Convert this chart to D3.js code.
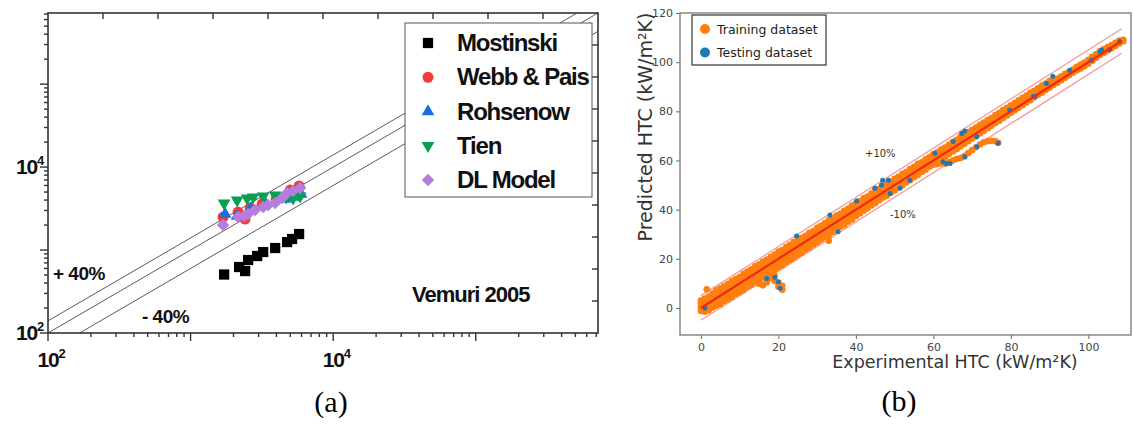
<!DOCTYPE html>
<html><head><meta charset="utf-8">
<script src="https://cdn.jsdelivr.net/npm/d3@7/dist/d3.min.js"></script>
<style>body{margin:0;background:#fff}svg{display:block}</style>
</head><body><svg id="c" width="1133" height="425"></svg>
<script>
// ---------- Panel (a) data ----------
const aSeriesNames = ["Mostinski", "Webb & Pais", "Rohsenow", "Tien", "DL Model"];
const aSeriesColors = ["#000000", "#f03c3c", "#1a6fe0", "#06a050", "#b57edc"];
const mostinskiX = [1718, 2189, 2412, 2533, 2931, 3228, 3919, 4753, 5152, 5768];
const mostinskiY = [507, 624, 558, 758, 847, 946, 1057, 1248, 1358, 1559];
const webbX = [1690, 2153, 2412, 2618, 3175, 3981, 4989, 5768];
const webbY = [2498, 2870, 2363, 3206, 3582, 4115, 5284, 5900];
const rohsenowX = [1747, 2120, 2618, 3334, 4603, 5236, 5957];
const rohsenowY = [2716, 2570, 3119, 3684, 4115, 4350, 4728];
const tienX = [1718, 2120, 2490, 2745, 3228, 3919, 4677, 5236, 5864];
const tienY = [3684, 4003, 4233, 4350, 4475, 4600, 4350, 4233, 4475];
const dlX = [1690, 2153, 2373, 2533, 2837, 3228, 3499, 3919, 4385, 4753, 5236, 5864];
const dlY = [2000, 2498, 2570, 2716, 3034, 3296, 3486, 3684, 4233, 4862, 5142, 5585];
const aTickValues = [100, 10000];
const aTickExps = ["2", "4"];
const aLeftTickValues = [100, 10000];
const aDomain = [100, 7.2e5];
const aLineFactors = [1.4, 1.0, 0.6];

// ---------- Panel (b) data ----------
const bXTicks = [0, 20, 40, 60, 80, 100];
const bYTicks = [0, 20, 40, 60, 80, 100, 120];
const bXDomain = [-5.4, 111];
const bYDomain = [-11, 120];
const refLineX = [0, 108.6];
const bandOffsets = [5, -5];
const trainCols = [
 [0,[-1.2,0.3,1.8,3.0]],[0.5,[-0.5,1.0,2.5]],[1,[-1.5,0.2,2.0,3.8]],[1.5,[7.6]],
 [2,[-1.0,0.8,2.6,4.6]],[3,[0.2,1.9,3.7,5.9]],[4,[0.9,2.8,4.6,7.2]],[5,[1.6,3.5,5.8,8.0]],
 [6,[2.8,4.4,6.7,8.9]],[7,[3.6,5.5,7.4,9.8]],[8,[4.5,6.6,8.3,10.9]],[9,[5.7,7.5,9.6,11.8]],
 [10,[6.4,8.3,10.4,12.6]],[11,[7.3,9.6,11.2,13.9]],[12,[8.6,10.4,12.5,14.8]],[13,[9.4,11.2,13.6,15.7]],
 [14,[10.5,12.6,14.3,16.9]],[15,[11.3,13.4,15.5,17.8,9.8]],[16,[12.6,14.2,16.4,18.9,9.2]],
 [17,[13.4,15.5,17.3,19.7,10.4,11.5]],[18,[14.6,16.3,18.6,20.8,12.3]],[19,[15.3,17.4,19.5,21.7,13.2,11.0]],
 [20,[16.5,18.2,20.4,22.9,8.6,10.2]],[21,[17.4,19.3,21.6,23.6,7.4,9.0]],[22,[18.6,20.5,22.3,24.8]],
 [23,[19.5,21.3,23.6,25.7]],[24,[20.4,22.6,24.5,26.9]],[25,[21.6,23.4,25.3,27.6]],[26,[22.5,24.6,26.4,28.5]],
 [27,[23.7,25.3,27.5,29.4]],[28,[24.6,26.7,28.3,30.6]],[29,[25.8,27.4,29.6,31.3]],[30,[26.7,28.5,30.4,32.6]],
 [31,[27.9,29.6,31.5,33.4]],[32,[28.8,30.4,32.6,34.5]],[33,[29.6,31.7,33.4,35.7,27.3]],[34,[30.9,32.5,34.6,36.4]],
 [35,[31.8,33.6,35.3,37.6]],[36,[33.0,34.5,36.6,38.3]],[37,[33.9,35.7,37.4,39.5]],[38,[35.1,36.6,38.5,40.4]],
 [39,[36.0,37.8,39.6,41.7]],[40,[37.3,38.8,40.5,42.6]],[41,[38.4,40.1,41.6,43.4]],[42,[39.5,41.0,42.7,44.6]],
 [43,[40.6,42.3,43.5,45.3]],[44,[41.7,43.2,44.6,46.5]],[45,[42.6,44.4,45.7,47.8]],[46,[43.8,45.3,46.6,48.5]],
 [47,[44.9,46.5,47.8,49.4]],[48,[45.7,47.4,48.6,50.7]],[49,[46.9,48.5,49.7,51.3]],[50,[47.8,49.4,50.8,52.5]],
 [51,[49.0,50.6,51.7,53.4]],[52,[49.9,51.5,52.9,54.6]],[53,[51.1,52.4,53.8,55.3]],[54,[52.0,53.6,54.9,56.5]],
 [55,[53.2,54.5,55.7,57.4]],[56,[54.1,55.6,56.9,58.6]],[57,[55.3,56.5,57.8,59.3]],[58,[56.2,57.7,58.9,60.5]],
 [59,[57.4,58.6,59.8,61.4]],[60,[58.3,59.7,60.9,62.6]],[61,[59.5,60.6,61.8,63.3,58.5]],[62,[60.4,61.8,63.0,64.4,58.9]],
 [63,[61.5,62.7,63.9,65.3,58.7]],[64,[62.6,63.8,65.0,66.4,59.4]],[65,[63.7,64.9,66.1,67.5,60.0]],
 [66,[64.6,65.8,67.0,68.4,60.6]],[67,[65.7,66.9,68.1,69.6,61.0]],[68,[66.8,68.0,69.2,70.5,61.6]],
 [69,[67.8,68.9,70.2,71.6,63.0]],[70,[68.9,70.1,71.3,72.5,64.2]],[71,[69.9,71.0,72.2,73.4,65.4]],
 [72,[71.0,72.1,73.3,74.5,66.5]],[73,[72.0,73.2,74.3,75.4,67.4]],[74,[73.1,74.1,75.3,76.4,67.8]],
 [75,[74.1,75.2,76.4,77.3,68.0]],[76,[75.2,76.2,77.3,78.5,67.8]],[76.7,[67.2]],
 [77,[76.2,77.3,78.4,79.4]],[78,[77.3,78.2,79.3,80.5]],[79,[78.3,79.3,80.4,81.4]],[80,[79.4,80.3,81.3,82.5]],
 [81,[80.4,81.4,82.4,83.4]],[82,[81.5,82.4,83.3,84.5]],[83,[82.5,83.5,84.4,85.5]],[84,[83.6,84.4,85.3,86.4]],
 [85,[84.5,85.5,86.4,87.5]],[86,[85.6,86.5,87.4,88.3]],[87,[86.6,87.4,88.5,89.4]],[88,[87.6,88.5,89.3,90.5]],
 [89,[88.7,89.5,90.4,91.3]],[90,[89.6,90.5,91.3,92.4]],[91,[90.7,91.5,92.3]],[92,[91.6,92.4,93.3]],
 [93,[92.6,93.5,94.2]],[94,[93.7,94.4,95.3]],[95,[94.7,95.4,96.1]],[96,[95.7,96.4,97.0]],[97,[96.6,97.3,98.1]],
 [98,[97.4,98.2,99.0]],[99,[98.3,99.0,99.8]],[100,[99.4,100.2,101.0]],[101,[100.6,101.4,102.2]],
 [102,[101.8,102.6,103.3]],[103,[102.9,103.6,104.4]],[104,[103.8,104.5,105.3]],[105,[104.7,105.4,106.1]],
 [106,[105.7,106.3,107.0]],[107,[106.6,107.3,107.9]],[108,[107.6,108.2,108.8]],[109,[108.5,109.1]]
];
const testX = [1, 17, 19.1, 20, 20.4, 24.7, 33.3, 35.4, 40.2, 44.9, 46.6, 46.9, 48.4, 48.8, 51.4, 53.9, 60.4, 62.5, 63.4, 64.3, 65.1, 67.3, 68.1, 68.1, 71.2, 71.2, 76.7, 79.7, 85.8, 86.2, 89.2, 90.8, 95.2, 100.8, 103, 103.4, 105.5, 108.1];
const testY = [0, 12, 12.5, 10.7, 8, 29.3, 37.8, 31, 43.5, 48.7, 50, 52, 52, 46.6, 48.7, 52, 62.9, 59.5, 58.8, 58.8, 67.7, 71, 72, 61.5, 65.6, 69.7, 67, 80.5, 86, 86, 91.3, 94.3, 96.7, 100.8, 104.2, 104.9, 105.2, 108.4];
const bLegend = ["Training dataset", "Testing dataset"];
const bColors = ["#ff7f0e", "#1f77b4"];

// ---------- drawing ----------
const svg = d3.select("#c");
const boldFont = "'Liberation Sans', Arial, sans-serif";

// Panel (a)
const A = {l: 48, r: 598, t: 13, b: 333};
const ax = d3.scaleLog().domain(aDomain).range([A.l, A.r]);
const ay = d3.scaleLog().domain(aDomain).range([A.b, A.t]);
const ga = svg.append("g");
ga.append("clipPath").attr("id", "clipA").append("rect")
  .attr("x", A.l).attr("y", A.t).attr("width", A.r - A.l).attr("height", A.b - A.t);

const lineA = d3.line().x(d => ax(d[0])).y(d => ay(d[1]));
aLineFactors.forEach(f => {
  ga.append("path").attr("clip-path", "url(#clipA)")
    .attr("d", lineA([[aDomain[0] / 2, aDomain[0] / 2 * f], [aDomain[1] * 2, aDomain[1] * 2 * f]]))
    .attr("fill", "none").attr("stroke", "#5a5a5a").attr("stroke-width", 1);
});

const symSquare = d3.symbol().type(d3.symbolSquare).size(105);
const symCircle = d3.symbol().type(d3.symbolCircle).size(95);
const symTri = d3.symbol().type(d3.symbolTriangle).size(70);
const symDiamond = d3.symbol().type(d3.symbolSquare).size(78);
const aSeries = [
  {xs: mostinskiX, ys: mostinskiY, sym: symSquare, rot: 0},
  {xs: webbX, ys: webbY, sym: symCircle, rot: 0},
  {xs: rohsenowX, ys: rohsenowY, sym: symTri, rot: 0},
  {xs: tienX, ys: tienY, sym: symTri, rot: 180},
  {xs: dlX, ys: dlY, sym: symDiamond, rot: 45},
];
aSeries.forEach((s, i) => {
  ga.append("g").selectAll("path").data(s.xs.map((x, j) => [x, s.ys[j]])).join("path")
    .attr("d", s.sym())
    .attr("transform", d => `translate(${ax(d[0])},${ay(d[1])}) rotate(${s.rot})`)
    .attr("fill", aSeriesColors[i]);
});

ga.append("rect").attr("x", A.l).attr("y", A.t).attr("width", A.r - A.l).attr("height", A.b - A.t)
  .attr("fill", "none").attr("stroke", "#333").attr("stroke-width", 1.6);
const logTicks = [];
for (let e = 2; e <= 5; e++) for (let k = 1; k <= 9; k++) {
  const v = k * Math.pow(10, e);
  if (v <= aDomain[1]) logTicks.push({v, major: k === 1});
}
logTicks.forEach(t => {
  const len = t.major ? 8 : 4;
  ga.append("line").attr("x1", ax(t.v)).attr("x2", ax(t.v)).attr("y1", A.b).attr("y2", A.b + len)
    .attr("stroke", "#333").attr("stroke-width", 1.4);
  ga.append("line").attr("y1", ay(t.v)).attr("y2", ay(t.v)).attr("x1", A.l).attr("x2", A.l - len)
    .attr("stroke", "#333").attr("stroke-width", 1.4);
});
const lin = d3.scaleLinear().domain([0, 10]);
d3.range(1, 10).forEach(k => {
  const tx = lin.copy().range([A.l, A.r])(k);
  const ty = lin.copy().range([A.b, A.t])(k);
  ga.append("line").attr("x1", tx).attr("x2", tx).attr("y1", A.t).attr("y2", A.t + 6)
    .attr("stroke", "#333").attr("stroke-width", 1.4);
  ga.append("line").attr("y1", ty).attr("y2", ty).attr("x1", A.r).attr("x2", A.r - 6)
    .attr("stroke", "#333").attr("stroke-width", 1.4);
});
function powLabel(g, x, y, exp, anchor) {
  const t = g.append("text").attr("x", x).attr("y", y).attr("text-anchor", anchor)
    .attr("font-family", boldFont).attr("font-weight", "bold").attr("font-size", 21)
    .attr("letter-spacing", -1.2).attr("fill", "#111");
  t.append("tspan").text("10");
  t.append("tspan").attr("dy", -9).attr("font-size", 13).text(exp);
}
aTickValues.forEach((v, i) => powLabel(ga, ax(v) + 3, 367, aTickExps[i], "middle"));
aLeftTickValues.forEach((v, i) => powLabel(ga, 43, ay(v) + 7, aTickExps[i], "end"));

function boldText(x, y, size, txt, ls) {
  ga.append("text").attr("x", x).attr("y", y).attr("font-family", boldFont).attr("font-weight", "bold")
    .attr("font-size", size).attr("letter-spacing", ls).attr("fill", "#111").text(txt);
}
boldText(53, 280, 19, "+ 40%", -0.5);
boldText(142, 323, 19, "- 40%", -0.5);
boldText(412, 302, 22, "Vemuri 2005", -1);

const lgA = ga.append("g");
lgA.append("rect").attr("x", 405).attr("y", 23).attr("width", 187).attr("height", 174)
  .attr("fill", "#fff").attr("stroke", "#555").attr("stroke-width", 1);
const legY = d3.scalePoint().domain(aSeriesNames).range([43, 180]);
aSeriesNames.forEach((n, i) => {
  lgA.append("path").attr("d", aSeries[i].sym())
    .attr("transform", `translate(428,${legY(n)}) rotate(${aSeries[i].rot})`).attr("fill", aSeriesColors[i]);
  lgA.append("text").attr("x", 457).attr("y", legY(n) + 8).attr("font-family", boldFont)
    .attr("font-weight", "bold").attr("font-size", 24).attr("letter-spacing", -1.2).attr("fill", "#111").text(n);
});

// Panel (b)
const B = {l: 680, r: 1131, t: 13, b: 335};
const bx = d3.scaleLinear().domain(bXDomain).range([B.l, B.r]);
const by = d3.scaleLinear().domain(bYDomain).range([B.b, B.t]);
const gb = svg.append("g");
const sans = "'DejaVu Sans', sans-serif";
const lineB = d3.line().x(d => bx(d[0])).y(d => by(d[1]));
bandOffsets.forEach(o => {
  gb.append("path").attr("d", lineB(refLineX.map(x => [x, x + o])))
    .attr("stroke", "#f29a9a").attr("stroke-width", 1.3).attr("fill", "none");
});
const trainPts = trainCols.flatMap(([x, ys]) => ys.map(y => [x, y]));
gb.append("g").selectAll("circle").data(trainPts).join("circle")
  .attr("cx", d => bx(d[0])).attr("cy", d => by(d[1])).attr("r", 3.3).attr("fill", bColors[0]);
gb.append("g").selectAll("circle").data(testX.map((x, i) => [x, testY[i]])).join("circle")
  .attr("cx", d => bx(d[0])).attr("cy", d => by(d[1])).attr("r", 2.5).attr("fill", bColors[1]);
gb.append("path").attr("d", lineB(refLineX.map(x => [x, x])))
  .attr("stroke", "#ee2a10").attr("stroke-width", 2.2).attr("fill", "none");

const xAxB = gb.append("g").attr("transform", `translate(0,${B.b})`)
  .call(d3.axisBottom(bx).tickValues(bXTicks).tickSize(4).tickPadding(4));
const yAxB = gb.append("g").attr("transform", `translate(${B.l},0)`)
  .call(d3.axisLeft(by).tickValues(bYTicks).tickSize(4).tickPadding(3));
[xAxB, yAxB].forEach(g => {
  g.select(".domain").remove();
  g.selectAll("line").attr("stroke", "#666");
  g.selectAll("text").attr("font-family", sans).attr("font-size", 11).attr("fill", "#444");
});
gb.append("rect").attr("x", B.l).attr("y", B.t).attr("width", B.r - B.l).attr("height", B.b - B.t)
  .attr("fill", "none").attr("stroke", "#808080").attr("stroke-width", 1.4);

gb.append("text").attr("x", 955).attr("y", 368).attr("text-anchor", "middle")
  .attr("font-family", sans).attr("font-size", 17.5).attr("fill", "#333").text("Experimental HTC (kW/m²K)");
gb.append("text").attr("transform", "translate(652,127) rotate(-90)").attr("text-anchor", "middle")
  .attr("font-family", sans).attr("font-size", 19).attr("fill", "#333").text("Predicted HTC  (kW/m²K)");
gb.append("text").attr("x", 865).attr("y", 157).attr("font-family", sans).attr("font-size", 10)
  .attr("fill", "#333").text("+10%");
gb.append("text").attr("x", 890).attr("y", 218).attr("font-family", sans).attr("font-size", 10)
  .attr("fill", "#333").text("-10%");

const lgB = gb.append("g");
lgB.append("rect").attr("x", 692).attr("y", 15).attr("width", 134).attr("height", 50)
  .attr("fill", "#fff").attr("stroke", "#333").attr("stroke-width", 1.2);
bLegend.forEach((n, i) => {
  const cy = 29 + i * 23.5;
  lgB.append("circle").attr("cx", 705).attr("cy", cy).attr("r", 5).attr("fill", bColors[i]);
  lgB.append("text").attr("x", 717).attr("y", cy + 4.5).attr("font-family", sans).attr("font-size", 12.5)
    .attr("fill", "#222").text(n);
});

svg.append("text").attr("x", 331).attr("y", 412).attr("text-anchor", "middle")
  .attr("font-family", "'Liberation Serif', 'Times New Roman', serif").attr("font-size", 30).text("(a)");
svg.append("text").attr("x", 899).attr("y", 411).attr("text-anchor", "middle")
  .attr("font-family", "'Liberation Serif', 'Times New Roman', serif").attr("font-size", 30).text("(b)");
</script></body></html>
